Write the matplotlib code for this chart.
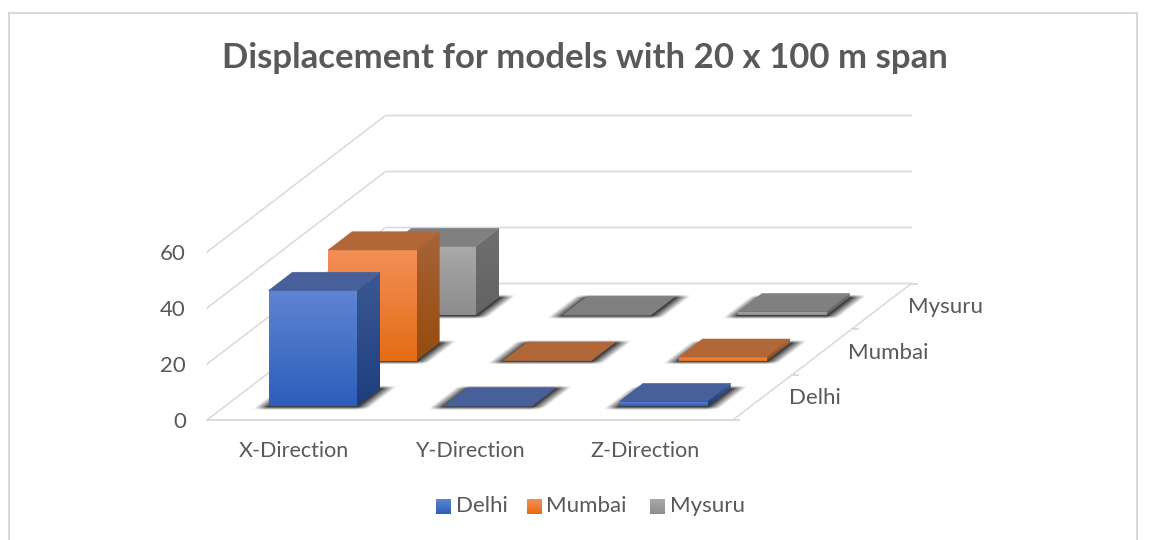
import numpy as np
from matplotlib import pyplot as plt
from matplotlib.colors import LinearSegmentedColormap
from matplotlib.patches import Polygon, Rectangle

plt.rcParams['font.family'] = ['Lato', 'DejaVu Sans']

title = "Displacement for models with 20 x 100 m span"
directions = ["X-Direction", "Y-Direction", "Z-Direction"]
cities = ["Delhi", "Mumbai", "Mysuru"]
delhi = [41.4, 0.1, 1.7]
mumbai = [39.6, 0.1, 1.3]
mysuru = [24.6, 0.1, 1.3]
z_ticks = [0, 20, 40, 60]

# front/side/top colours, (top of gradient, bottom of gradient)
front_col = [("#5f84d2", "#2c5fbb"), ("#f48f57", "#e46c14"), ("#a9a9a9", "#8d8d8d")]
side_col = [("#3c5892", "#1d3e7e"), ("#a5643a", "#974b0c"), ("#6f6f6f", "#636363")]
top_col = ["#47609a", "#b26739", "#808080"]

# picture geometry in pixels
x0, y0 = 207, 420
cat_w = 175.3
row_dx, row_dy = 59.5, -45.5
z_px = 56 / 20
W, H = 1150, 540
txt = "#595959"
grid = "#d9d9d9"


def proj(cat, row, z=0):
    # cat and row are in category units, z in data units
    return (x0 + cat * cat_w + row * row_dx, y0 + row * row_dy - z * z_px)


fig = plt.figure(figsize=(W / 100, H / 100), dpi=100)
ax = fig.add_axes([0, 0, 1, 1])
ax.set_xlim(0, W)
ax.set_ylim(H, 0)
ax.axis("off")


def grad_poly(pts, c1, c2, zo):
    # vertical gradient clipped to a polygon
    pts = np.array(pts)
    cmap = LinearSegmentedColormap.from_list("g", [c1, c2])
    im = ax.imshow(np.linspace(0, 1, 64).reshape(-1, 1), cmap=cmap, aspect="auto", zorder=zo,
                   extent=[pts[:, 0].min(), pts[:, 0].max(), pts[:, 1].max(), pts[:, 1].min()])
    patch = Polygon(pts, closed=True, transform=ax.transData, fc="none", ec="none")
    ax.add_patch(patch)
    im.set_clip_path(patch)
    ax.set_xlim(0, W)
    ax.set_ylim(H, 0)


def shadow(cat, row, zo):
    # soft dark footprint, wider sideways than in depth
    left = proj(cat + 0.25, row + 0.3)
    right = proj(cat + 0.75, row + 0.3)
    back_y = proj(cat + 0.25, row + 0.7)[1]
    xs, ys = np.meshgrid(np.arange(0, W, 1.0), np.arange(0, H, 1.0))
    # slide each pixel along the depth direction onto the front edge
    u = xs - (ys - left[1]) * row_dx / row_dy
    soft_x = np.clip((u - left[0] + 14) / 13, 0, 1) * np.clip((right[0] + 14 - u) / 13, 0, 1)
    soft_y = np.clip((left[1] + 3 - ys) / 3, 0, 1) * np.clip((ys - back_y + 3) / 3, 0, 1)
    rgba = np.zeros((H, W, 4))
    rgba[..., 3] = 0.75 * soft_x * soft_y
    ax.imshow(rgba, extent=[0, W, H, 0], aspect="auto", zorder=zo, interpolation="bilinear")
    ax.set_xlim(0, W)
    ax.set_ylim(H, 0)


def bar(cat, row, val, s, zo):
    a, b = cat + 0.25, cat + 0.75
    f, k = row + 0.3, row + 0.7
    front = [proj(a, f), proj(b, f), proj(b, f, val), proj(a, f, val)]
    side = [proj(b, f), proj(b, k), proj(b, k, val), proj(b, f, val)]
    top = [proj(a, f, val), proj(b, f, val), proj(b, k, val), proj(a, k, val)]
    # side goes first, the front overlaps it a little so no light seam shows
    grad_poly(side, side_col[s][0], side_col[s][1], zo)
    front[1] = (front[1][0] + 0.8, front[1][1])
    front[2] = (front[2][0] + 0.8, front[2][1])
    grad_poly(front, front_col[s][0], front_col[s][1], zo + 0.05)
    ax.add_patch(Polygon(top, closed=True, fc=top_col[s], ec=top_col[s], lw=0.4, zorder=zo + 0.1))


# chart border
ax.add_patch(Rectangle((9, 13), 1128, 540, fc="white", ec=grid, lw=1.5, zorder=0))

# walls and floor
for t in z_ticks:
    ax.plot(*zip(proj(0, 0, t), proj(0, 3, t), proj(3, 3, t)), color=grid, lw=1.1, zorder=1)
ax.plot(*zip(proj(0, 0), proj(3, 0)), color=grid, lw=1.3, zorder=1)
ax.plot(*zip(proj(3, 0), proj(3, 3)), color=grid, lw=1.1, zorder=1)
for r in range(4):
    p = proj(3, r)
    ax.plot([p[0], p[0] + 6], [p[1], p[1]], color=grid, lw=1.3, zorder=1)

for t in z_ticks:
    p = proj(0, 0, t)
    ax.text(p[0] - 21, p[1] + 1.5, str(t), ha="right", va="center", fontsize=16, color=txt)

for i, d in enumerate(directions):
    p = proj(i + 0.5, 0)
    ax.text(p[0] - 0.5, 451, d, ha="center", va="center", fontsize=15.5, color=txt)

for r, c in enumerate(cities):
    p = proj(3, r + 0.5)
    ax.text(p[0] + 26, p[1] + 1, c, ha="left", va="center", fontsize=16, color=txt)

# bars, back row first so nearer ones cover them
series = [delhi, mumbai, mysuru]
for r in range(2, -1, -1):
    for c in range(3):
        shadow(c, r, 2)
zo = 3
for r in range(2, -1, -1):
    for c in range(3):
        bar(c, r, series[r][c], r, zo)
        zo += 1

# legend
leg_x = [436, 527, 650]
for s, c in enumerate(cities):
    sw = [(leg_x[s], 499), (leg_x[s] + 15, 499), (leg_x[s] + 15, 514), (leg_x[s], 514)]
    grad_poly(sw, front_col[s][0], front_col[s][1], 30)
    ax.text(leg_x[s] + 19.5, 506, c, ha="left", va="center", fontsize=16, color=txt)

ax.text(584.5, 58, title, ha="center", va="center", fontsize=25, fontweight="bold", color=txt)

plt.savefig("out.png", dpi=100)
